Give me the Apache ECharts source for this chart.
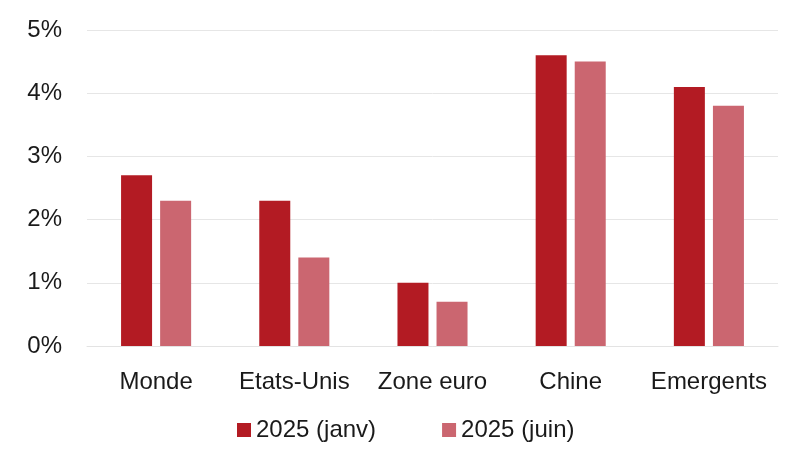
<!DOCTYPE html>
<html>
<head>
<meta charset="utf-8">
<script src="https://cdn.jsdelivr.net/npm/echarts@6/dist/echarts.min.js"></script>
<style>
  html, body { margin: 0; padding: 0; background: #fff; }
  #chart { width: 800px; height: 459px; }
</style>
</head>
<body>
<div id="chart"></div>
<script>
var categories = ["Monde", "Etats-Unis", "Zone euro", "Chine", "Emergents"],
    janvValues = [2.7, 2.3, 1.0, 4.6, 4.1],
    juinValues = [2.3, 1.4, 0.7, 4.5, 3.8],
    seriesNames = ["2025 (janv)", "2025 (juin)"];

var fontFamily = "'Liberation Sans', Helvetica, Arial, sans-serif";

var chart = echarts.init(document.getElementById("chart"));

var option = {
    animation: false,
    textStyle: { fontFamily: fontFamily },
    grid: { left: 87, right: 22, top: 30, bottom: 113, containLabel: false },
    legend: {
        bottom: 12,
        left: 232,
        itemWidth: 14,
        itemHeight: 14,
        itemGap: 66,
        icon: "rect",
        textStyle: { fontSize: 24, color: "#1a1a1a", fontFamily: fontFamily },
        data: seriesNames
    },
    xAxis: {
        type: "category",
        data: categories,
        axisLine: { lineStyle: { color: "#e3e3e3", width: 1 } },
        axisTick: { show: false },
        axisLabel: { fontSize: 24, color: "#1a1a1a", margin: 24, interval: 0, hideOverlap: false }
    },
    yAxis: {
        type: "value",
        min: 0,
        max: 5,
        interval: 1,
        axisLine: { show: false },
        axisTick: { show: false },
        splitLine: { lineStyle: { color: "#e6e6e6", width: 1 } },
        axisLabel: {
            fontSize: 24,
            color: "#1a1a1a",
            margin: 25,
            formatter: function (v) { return v + "%"; }
        }
    },
    series: [{
        name: seriesNames[0],
        type: "bar",
        data: janvValues,
        barWidth: 31,
        barGap: "26%",
        itemStyle: { color: "#B31B23" }
    }, {
        name: seriesNames[1],
        type: "bar",
        data: juinValues,
        barWidth: 31,
        itemStyle: { color: "#CB6670" }
    }]
};

chart.setOption(option);
</script>
</body>
</html>
